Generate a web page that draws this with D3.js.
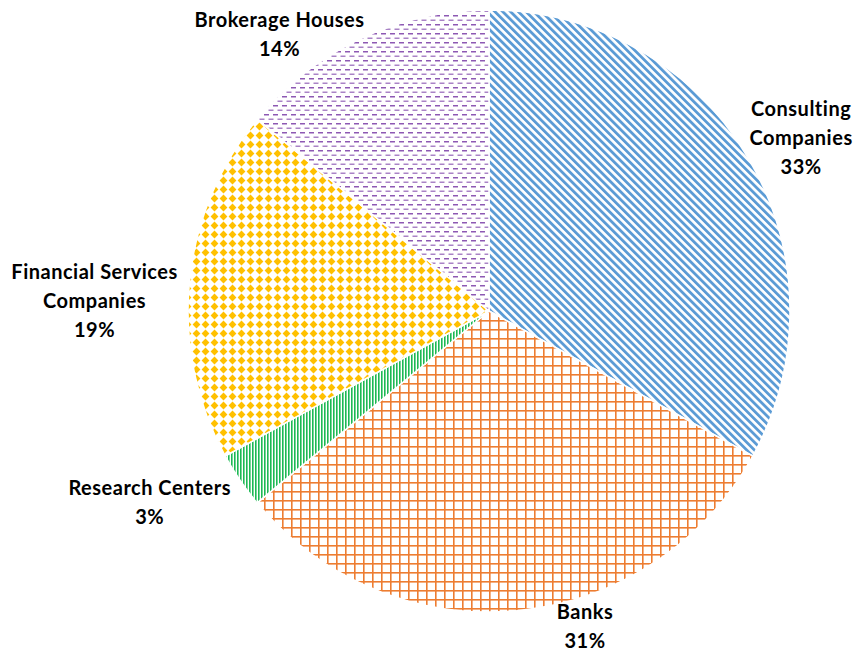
<!DOCTYPE html>
<html lang="en">
<meta charset="UTF-8">
<title>Pie chart</title>
<script src="https://d3js.org/d3.v7.min.js"></script>
<style>
html, body { margin: 0; padding: 0; background: #fff; }
text { font-family: Lato, "Open Sans", sans-serif; font-weight: bold; fill: #000; letter-spacing: 0.5px; }
</style>
<body>
<div id="my_dataviz"></div>
<script>
// data
var categories = ["Consulting Companies", "Banks", "Research Centers", "Financial Services Companies", "Brokerage Houses"];
var values = [33, 31, 3, 19, 14];
var labelLines = [["Consulting", "Companies"], ["Banks"], ["Research Centers"], ["Financial Services", "Companies"], ["Brokerage Houses"]];

// layout
var width = 857, height = 652;
var cx = 489, cy = 311, radius = 301;
// nudges for the labels, relative to a point just outside the pie
var labelNudge = [[10, 6], [63, -34], [-49, -6], [-45, 23], [-60, 41]];
var lineHeight = 29;

var svg = d3.select("#my_dataviz")
  .append("svg")
  .attr("width", width)
  .attr("height", height);

var defs = svg.append("defs");

// blue: wide downward diagonal
var p0 = defs.append("pattern").attr("id", "pat0")
  .attr("patternUnits", "userSpaceOnUse")
  .attr("width", 5.5).attr("height", 5.5)
  .attr("patternTransform", "rotate(-45)");
p0.append("rect").attr("width", 5.5).attr("height", 5.5).attr("fill", "#fff");
p0.append("rect").attr("width", 2.8).attr("height", 5.5).attr("fill", "#5B9BD5");

// orange: large grid
var p1 = defs.append("pattern").attr("id", "pat1")
  .attr("patternUnits", "userSpaceOnUse")
  .attr("width", 9).attr("height", 9);
p1.append("rect").attr("width", 9).attr("height", 9).attr("fill", "#fff");
p1.append("rect").attr("x", 0).attr("width", 1.6).attr("height", 9).attr("fill", "#ED7D31");
p1.append("rect").attr("y", 0).attr("width", 9).attr("height", 1.6).attr("fill", "#ED7D31");

// green: vertical stripes
var p2 = defs.append("pattern").attr("id", "pat2")
  .attr("patternUnits", "userSpaceOnUse")
  .attr("width", 3).attr("height", 3);
p2.append("rect").attr("width", 3).attr("height", 3).attr("fill", "#fff");
p2.append("rect").attr("width", 1.6).attr("height", 3).attr("fill", "#1DB954");

// yellow: solid diamond
var p3 = defs.append("pattern").attr("id", "pat3")
  .attr("patternUnits", "userSpaceOnUse")
  .attr("width", 9).attr("height", 9);
p3.append("rect").attr("width", 9).attr("height", 9).attr("fill", "#fff");
p3.append("polygon").attr("points", "4.5,0.6 8.4,4.5 4.5,8.4 0.6,4.5").attr("fill", "#FFC000");

// purple: dashed horizontal
var p4 = defs.append("pattern").attr("id", "pat4")
  .attr("patternUnits", "userSpaceOnUse")
  .attr("width", 9).attr("height", 9);
p4.append("rect").attr("width", 9).attr("height", 9).attr("fill", "#fff");
p4.append("rect").attr("x", 0).attr("y", 1).attr("width", 5).attr("height", 1.5).attr("fill", "#7030A0").attr("opacity", 0.8);
p4.append("rect").attr("x", 4.5).attr("y", 5.5).attr("width", 5).attr("height", 1.5).attr("fill", "#7030A0").attr("opacity", 0.6);
p4.append("rect").attr("x", -4.5).attr("y", 5.5).attr("width", 5).attr("height", 1.5).attr("fill", "#7030A0").attr("opacity", 0.6);

var pie = d3.pie().sort(null).value(function(d) { return d; });
var arcs = pie(values);

var arc = d3.arc().innerRadius(0).outerRadius(radius);
var labelArc = d3.arc().innerRadius(radius + 50).outerRadius(radius + 50);

var g = svg.append("g").attr("transform", "translate(" + cx + "," + cy + ")");

g.selectAll("path")
  .data(arcs)
  .enter()
  .append("path")
  .attr("d", arc)
  .attr("fill", function(d, i) { return "url(#pat" + i + ")"; })
  .attr("stroke", "#fff")
  .attr("stroke-width", 1.5);

// labels
var labels = g.selectAll("text.lbl")
  .data(arcs)
  .enter()
  .append("text")
  .attr("class", "lbl")
  .attr("text-anchor", "middle")
  .style("font-size", "20px")
  .attr("transform", function(d, i) {
    var c = labelArc.centroid(d);
    return "translate(" + (c[0] + labelNudge[i][0]) + "," + (c[1] + labelNudge[i][1]) + ")";
  });

labels.each(function(d, i) {
  var lines = labelLines[i].concat([d.data + "%"]);
  var t = d3.select(this);
  var top = -(lines.length - 1) * lineHeight / 2;
  lines.forEach(function(s, k) {
    t.append("tspan")
      .attr("x", 0)
      .attr("y", top + k * lineHeight)
      .attr("dy", "0.35em")
      .text(s);
  });
});
</script>
</body>
</html>
